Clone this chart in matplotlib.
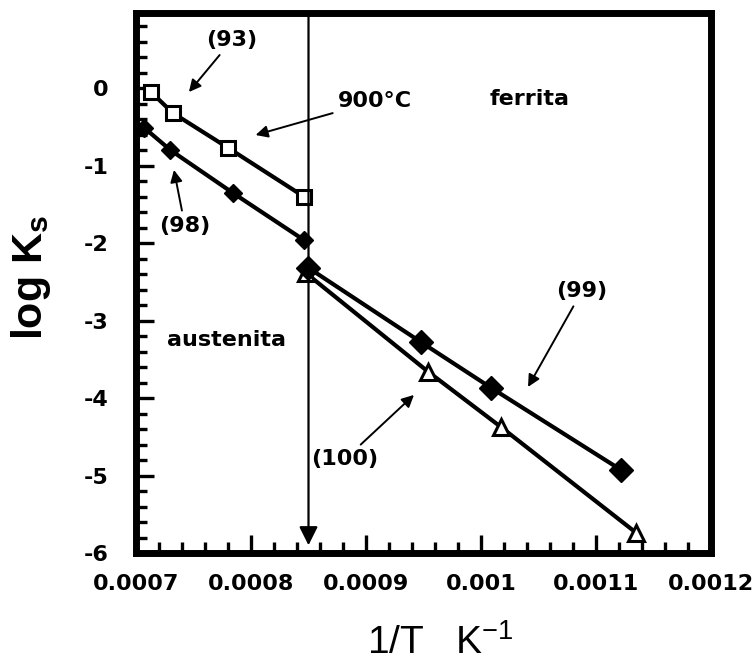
import numpy as np
import matplotlib
matplotlib.use('Agg')
import matplotlib.pyplot as plt
from matplotlib.ticker import FixedLocator, FixedFormatter, MultipleLocator

# ---- data ----
x93 = [0.000713, 0.000732, 0.000780, 0.000846]
y93 = [-0.05, -0.32, -0.77, -1.40]
x98 = [0.000707, 0.000730, 0.000784, 0.000846]
y98 = [-0.51, -0.80, -1.35, -1.96]
x99 = [0.000850, 0.000948, 0.001009, 0.001122]
y99 = [-2.32, -3.28, -3.87, -4.93]
x100 = [0.000848, 0.000954, 0.001017, 0.001135]
y100 = [-2.39, -3.66, -4.37, -5.74]
x_boundary = 0.00085  # 900 °C
xtick_values = [0.0007, 0.0008, 0.0009, 0.0010, 0.0011, 0.0012]
xtick_labels = ['0.0007', '0.0008', '0.0009', '0.001', '0.0011', '0.0012']
ytick_values = [-6, -5, -4, -3, -2, -1, 0]
ytick_labels = ['-6', '-5', '-4', '-3', '-2', '-1', '0']

plt.rcParams['mathtext.fontset'] = 'custom'
plt.rcParams['mathtext.rm'] = 'Liberation Sans'
plt.rcParams['mathtext.bf'] = 'Liberation Sans:bold'
plt.rcParams['mathtext.it'] = 'Liberation Sans:italic'

fig = plt.figure(figsize=(7.55, 6.67), dpi=100)
ax = fig.add_axes([136 / 755, 1 - 553 / 667, 575 / 755, 540 / 667])

ax.set_xlim(0.0007, 0.0012)
ax.set_ylim(-6, 0.97)

lw = 3
ax.plot(x93, y93, color='black', lw=lw, marker='s', ms=10, mfc='white',
        mec='black', mew=2.2, zorder=3)
ax.plot(x98, y98, color='black', lw=lw, marker='D', ms=9, mfc='black',
        mec='black', zorder=3)
ax.plot(x100, y100, color='black', lw=lw, marker='^', ms=11, mfc='white',
        mec='black', mew=2.2, zorder=3)
ax.plot(x99, y99, color='black', lw=lw, marker='D', ms=12, mfc='black',
        mec='black', zorder=4)

# vertical 900 C boundary with arrow
ax.annotate('', xy=(x_boundary, -5.9), xytext=(x_boundary, 0.97),
            arrowprops=dict(arrowstyle='-|>', lw=1.6, color='black',
                            mutation_scale=28, shrinkA=0, shrinkB=0))

# ticks
ax.xaxis.set_major_locator(FixedLocator(xtick_values))
ax.xaxis.set_major_formatter(FixedFormatter(xtick_labels))
ax.xaxis.set_minor_locator(MultipleLocator(0.00002))
ax.yaxis.set_major_locator(FixedLocator(ytick_values))
ax.yaxis.set_major_formatter(FixedFormatter(ytick_labels))
ax.yaxis.set_minor_locator(MultipleLocator(0.2))

ax.tick_params(which='both', direction='in', top=False, right=False,
               color='black')
ax.tick_params(which='major', length=13, width=2.4)
ax.tick_params(which='minor', length=8, width=2.4)
ax.tick_params(axis='x', which='major', pad=15)
ax.tick_params(axis='y', which='major', pad=20)
for lab in ax.get_xticklabels() + ax.get_yticklabels():
    lab.set_fontfamily('DejaVu Sans')
    lab.set_fontweight('bold')
    lab.set_fontsize(16)

for sp in ax.spines.values():
    sp.set_linewidth(5)
    sp.set_color('black')

# axis labels
ax.set_ylabel(r'log K$_{\mathbf{s}}$', fontsize=31, fontweight='bold',
              family='Liberation Sans', va='center')
ax.yaxis.set_label_coords(-0.183, 0.51)
ax.set_xlabel(r'1/T   K$^{-1}$', fontsize=28, family='Liberation Sans',
              va='center')
ax.xaxis.set_label_coords(0.53, -0.166)

# annotations
tfont = dict(family='DejaVu Sans', fontweight='bold', fontsize=16,
             ha='center', va='center')
aprops = dict(arrowstyle='-|>', lw=1.4, color='black', mutation_scale=18,
              shrinkA=2, shrinkB=0)
ax.annotate('(93)', xy=(0.000746, -0.05), xytext=(0.0007835, 0.62),
            arrowprops=aprops, **tfont)
ax.annotate('900\u00b0C', xy=(0.000804, -0.605), xytext=(0.000908, -0.166),
            arrowprops=aprops, **tfont)
ax.annotate('(98)', xy=(0.000733, -1.056), xytext=(0.0007426, -1.78),
            arrowprops=aprops, **tfont)
ax.annotate('(99)', xy=(0.0010409, -3.857), xytext=(0.0010878, -2.62),
            arrowprops=aprops, **tfont)
ax.annotate('(100)', xy=(0.0009417, -3.96), xytext=(0.0008817, -4.79),
            arrowprops=aprops, **tfont)
ax.text(0.0010426, -0.14, 'ferrita', **tfont)
ax.text(0.0007791, -3.25, 'austenita', **tfont)

fig.savefig('out.png', dpi=100)
